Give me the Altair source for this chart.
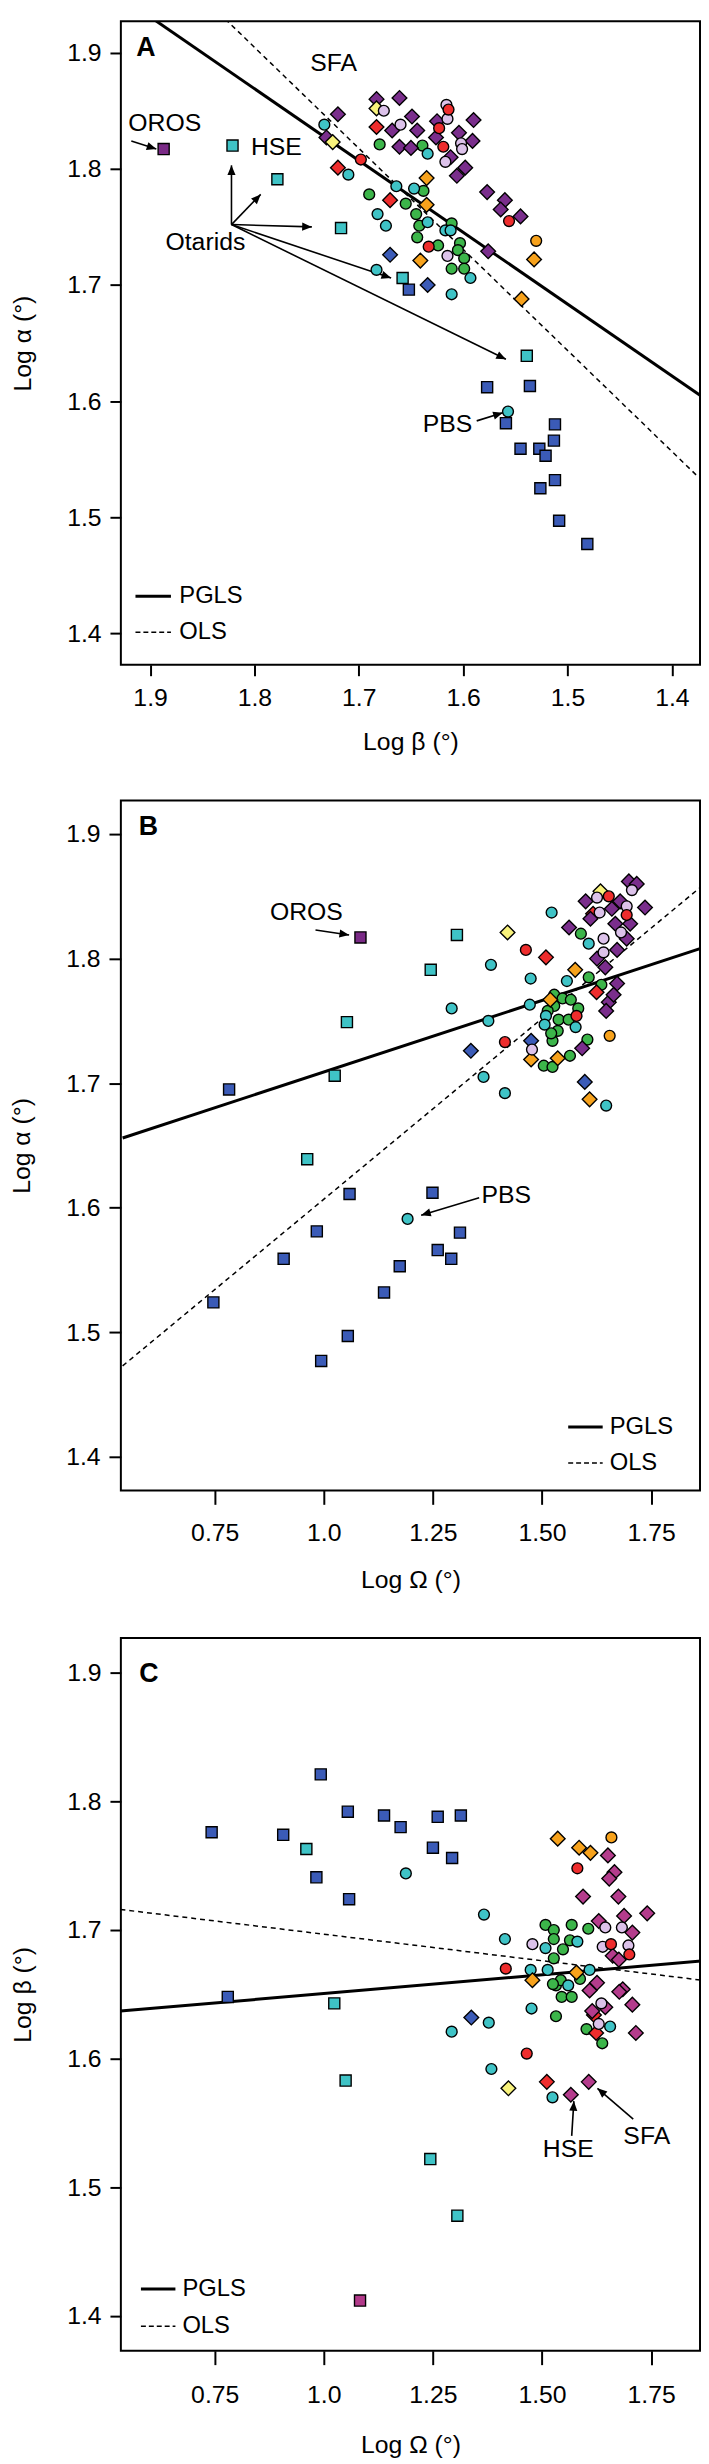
import math
import altair as alt
import pandas as pd

FONT = "Liberation Sans"

# ---------------- axis ticks / titles ----------------
Y_TICKS = [1.4, 1.5, 1.6, 1.7, 1.8, 1.9]
Y_LABELS = ["1.4", "1.5", "1.6", "1.7", "1.8", "1.9"]
A_X_TICKS = [1.4, 1.5, 1.6, 1.7, 1.8, 1.9]
A_X_LABELS = ["1.4", "1.5", "1.6", "1.7", "1.8", "1.9"]
BC_X_TICKS = [0.75, 1.0, 1.25, 1.5, 1.75]
BC_X_LABELS = ["0.75", "1.0", "1.25", "1.50", "1.75"]

# ---------------- Panel A: Log beta (x) vs Log alpha (y) ----------------
A_blue_sq = [(1.652, 1.696), (1.577, 1.612), (1.536, 1.613), (1.559, 1.581), (1.512, 1.580),
             (1.513, 1.566), (1.545, 1.559), (1.527, 1.559), (1.521, 1.553), (1.512, 1.532),
             (1.526, 1.525), (1.508, 1.497), (1.481, 1.477)]
A_cyan_sq = [(1.821, 1.820), (1.778, 1.791), (1.717, 1.749), (1.658, 1.706), (1.539, 1.639)]
A_purple_sq = [(1.887, 1.817)]
A_green_ci = [(1.680, 1.821), (1.639, 1.820), (1.690, 1.778), (1.655, 1.770), (1.638, 1.781),
              (1.645, 1.761), (1.642, 1.751), (1.644, 1.741), (1.624, 1.734), (1.611, 1.753),
              (1.603, 1.736), (1.605, 1.730), (1.599, 1.723), (1.599, 1.714), (1.611, 1.714)]
A_cyan_ci = [(1.733, 1.838), (1.634, 1.813), (1.710, 1.795), (1.664, 1.785), (1.647, 1.783),
             (1.682, 1.761), (1.674, 1.751), (1.634, 1.754), (1.617, 1.747), (1.612, 1.747),
             (1.683, 1.713), (1.593, 1.706), (1.611, 1.692), (1.557, 1.591)]
A_orange_ci = [(1.530, 1.738)]
A_orange_di = [(1.635, 1.792), (1.635, 1.769), (1.641, 1.721), (1.532, 1.722), (1.544, 1.688)]
A_blue_di = [(1.670, 1.726), (1.634, 1.700)]
A_red_di = [(1.683, 1.836), (1.720, 1.801), (1.670, 1.773)]
A_purple_di = [(1.683, 1.860), (1.661, 1.861), (1.720, 1.847), (1.649, 1.845), (1.590, 1.842),
               (1.668, 1.833), (1.644, 1.833), (1.625, 1.841), (1.604, 1.831), (1.626, 1.827),
               (1.591, 1.824), (1.661, 1.819), (1.650, 1.818), (1.612, 1.810), (1.598, 1.801),
               (1.606, 1.794), (1.577, 1.780), (1.560, 1.773), (1.564, 1.765), (1.545, 1.759),
               (1.576, 1.729), (1.731, 1.827)]
A_yellow_di = [(1.683, 1.852), (1.725, 1.823)]
A_lilac_ci = [(1.676, 1.850), (1.616, 1.855), (1.615, 1.843), (1.660, 1.838), (1.602, 1.822),
              (1.601, 1.817), (1.617, 1.806), (1.615, 1.725)]
A_red_ci = [(1.614, 1.851), (1.623, 1.835), (1.619, 1.819), (1.698, 1.808), (1.556, 1.755),
            (1.633, 1.733)]
A_pgls = [(1.897, 1.929), (1.373, 1.605)]
A_ols = [(1.828, 1.929), (1.375, 1.535)]
A_texts = ["SFA", "OROS", "HSE", "Otarids", "PBS"]
A_text_xy = [(1.724, 1.891), (1.886, 1.839), (1.779, 1.819), (1.847, 1.737), (1.615, 1.580)]
A_arrows = [(1.918, 1.824, 1.894, 1.817), (1.822, 1.752, 1.822, 1.803),
            (1.822, 1.752, 1.794, 1.778), (1.822, 1.752, 1.745, 1.750),
            (1.822, 1.752, 1.669, 1.706), (1.822, 1.752, 1.559, 1.636),
            (1.587, 1.583, 1.562, 1.590)]
A_legend_line_x = (1.914, 1.880)
A_legend_text_x = 1.872
A_legend_y = (1.432, 1.401)
A_letter_xy = (1.904, 1.904)

# ---------------- Panel B: Log Omega (x) vs Log alpha (y) ----------------
B_blue_sq = [(0.783, 1.695), (1.059, 1.611), (1.249, 1.612), (0.984, 1.581), (1.312, 1.580),
             (0.908, 1.559), (1.261, 1.566), (1.292, 1.559), (1.174, 1.553), (1.138, 1.532),
             (0.747, 1.524), (1.055, 1.497), (0.994, 1.477)]
B_cyan_sq = [(1.305, 1.819), (1.245, 1.791), (1.053, 1.749), (1.025, 1.706), (0.962, 1.639)]
B_purple_sq = [(1.084, 1.817)]
B_green_ci = [(1.589, 1.820), (1.607, 1.785), (1.636, 1.779), (1.528, 1.771), (1.547, 1.768),
              (1.566, 1.767), (1.583, 1.760), (1.528, 1.762), (1.513, 1.758), (1.538, 1.751),
              (1.561, 1.751), (1.536, 1.742), (1.524, 1.734), (1.604, 1.735), (1.564, 1.722),
              (1.504, 1.714), (1.524, 1.713), (1.521, 1.740)]
B_cyan_ci = [(1.522, 1.837), (1.383, 1.795), (1.474, 1.784), (1.557, 1.782), (1.607, 1.812),
             (1.293, 1.760), (1.472, 1.763), (1.377, 1.750), (1.509, 1.754), (1.506, 1.747),
             (1.577, 1.745), (1.366, 1.705), (1.415, 1.692), (1.647, 1.682), (1.192, 1.591)]
B_orange_ci = [(1.655, 1.738)]
B_orange_di = [(1.576, 1.791), (1.519, 1.767), (1.475, 1.719), (1.536, 1.720), (1.609, 1.687)]
B_blue_di = [(1.337, 1.726), (1.475, 1.734), (1.598, 1.701)]
B_red_di = [(1.509, 1.801), (1.625, 1.773), (1.617, 1.836)]
B_purple_di = [(1.699, 1.862), (1.717, 1.860), (1.600, 1.846), (1.660, 1.840), (1.736, 1.841),
               (1.562, 1.825), (1.679, 1.846), (1.668, 1.828), (1.702, 1.828), (1.611, 1.832),
               (1.694, 1.816), (1.672, 1.807), (1.626, 1.800), (1.645, 1.793), (1.672, 1.780),
               (1.653, 1.765), (1.647, 1.758), (1.664, 1.771), (1.592, 1.728)]
B_yellow_di = [(1.421, 1.821), (1.634, 1.854)]
B_lilac_ci = [(1.477, 1.727), (1.626, 1.849), (1.706, 1.855), (1.632, 1.837), (1.694, 1.842),
              (1.681, 1.821), (1.641, 1.816), (1.641, 1.805)]
B_red_ci = [(1.463, 1.807), (1.415, 1.733), (1.579, 1.754), (1.653, 1.850), (1.694, 1.835)]
B_pgls = [(0.539, 1.656), (1.862, 1.808)]
B_ols = [(0.539, 1.473), (1.862, 1.857)]
B_texts = ["OROS", "PBS"]
B_text_xy = [(0.960, 1.837), (1.418, 1.610)]
B_arrows = [(0.981, 1.823, 1.058, 1.819), (1.356, 1.608, 1.223, 1.594)]
B_legend_line_x = (1.560, 1.639)
B_legend_text_x = 1.655
B_legend_y = (1.424, 1.395)
B_letter_xy = (0.598, 1.906)

# ---------------- Panel C: Log Omega (x) vs Log beta (y) ----------------
C_blue_sq = [(0.743, 1.776), (0.780, 1.648), (0.907, 1.774), (0.993, 1.821), (0.983, 1.741),
             (1.055, 1.792), (1.058, 1.724), (1.138, 1.789), (1.176, 1.780), (1.250, 1.764),
             (1.261, 1.788), (1.294, 1.756), (1.314, 1.789)]
C_cyan_sq = [(0.960, 1.763), (1.024, 1.643), (1.050, 1.583), (1.244, 1.522), (1.306, 1.478)]
C_magenta_sq = [(1.083, 1.412)]
C_green_ci = [(1.508, 1.704), (1.568, 1.704), (1.606, 1.701), (1.527, 1.700), (1.527, 1.693),
              (1.564, 1.692), (1.548, 1.685), (1.527, 1.678), (1.532, 1.657), (1.543, 1.661),
              (1.525, 1.658), (1.545, 1.648), (1.568, 1.648), (1.532, 1.633), (1.602, 1.623),
              (1.638, 1.612), (1.587, 1.662)]
C_cyan_ci = [(1.188, 1.744), (1.367, 1.712), (1.415, 1.693), (1.508, 1.686), (1.581, 1.691),
             (1.474, 1.669), (1.513, 1.669), (1.609, 1.669), (1.560, 1.657), (1.476, 1.639),
             (1.378, 1.628), (1.293, 1.621), (1.656, 1.625), (1.384, 1.592), (1.524, 1.570)]
C_orange_ci = [(1.659, 1.772)]
C_orange_di = [(1.536, 1.771), (1.585, 1.764), (1.611, 1.760), (1.478, 1.661), (1.579, 1.667)]
C_blue_di = [(1.338, 1.632)]
C_red_di = [(1.624, 1.620), (1.619, 1.634), (1.511, 1.582)]
C_magenta_di = [(1.651, 1.758), (1.666, 1.745), (1.654, 1.740), (1.594, 1.726), (1.675, 1.726),
                (1.688, 1.711), (1.741, 1.713), (1.630, 1.707), (1.707, 1.698), (1.662, 1.680),
                (1.676, 1.677), (1.626, 1.659), (1.609, 1.653), (1.685, 1.654), (1.677, 1.652),
                (1.707, 1.642), (1.645, 1.640), (1.615, 1.637), (1.715, 1.620), (1.607, 1.582),
                (1.566, 1.572)]
C_yellow_di = [(1.423, 1.577)]
C_lilac_ci = [(1.478, 1.689), (1.645, 1.702), (1.683, 1.702), (1.639, 1.687), (1.698, 1.688),
              (1.636, 1.643), (1.630, 1.627)]
C_red_ci = [(1.581, 1.748), (1.417, 1.670), (1.658, 1.689), (1.700, 1.681), (1.465, 1.604)]
C_pgls = [(0.534, 1.637), (1.867, 1.676)]
C_ols = [(0.534, 1.716), (1.867, 1.661)]
C_texts = ["HSE", "SFA"]
C_text_xy = [(1.560, 1.530), (1.740, 1.540)]
C_arrows = [(1.568, 1.540, 1.573, 1.567), (1.709, 1.553, 1.627, 1.577)]
C_legend_line_x = (0.581, 0.660)
C_legend_text_x = 0.676
C_legend_y = (1.421, 1.392)
C_letter_xy = (0.599, 1.899)

# ---------------- styles ----------------
STYLE = {
    "blue_sq": ("square", "#3b5bb7", 125),
    "cyan_sq": ("square", "#3fc3c6", 125),
    "purple_sq": ("square", "#7a2a86", 125),
    "magenta_sq": ("square", "#b23a8a", 125),
    "green_ci": ("circle", "#3cb54a", 120),
    "cyan_ci": ("circle", "#3fc3c6", 120),
    "orange_ci": ("circle", "#f7a21c", 120),
    "orange_di": ("diamond", "#f7a21c", 220),
    "blue_di": ("diamond", "#3b5bb7", 220),
    "red_di": ("diamond", "#ee2d2d", 220),
    "purple_di": ("diamond", "#7a2e8c", 220),
    "magenta_di": ("diamond", "#b43c8c", 220),
    "yellow_di": ("diamond", "#f8f27c", 220),
    "lilac_ci": ("circle", "#dcc2ea", 120),
    "red_ci": ("circle", "#ee2d2d", 120),
}
ARROW_PATH = "M0,0L-0.42,1L0.42,1Z"
WIDTH = 585
YDOM = [1.373, 1.927]


def label_expr(values, labels):
    parts = [f"abs(datum.value - {v}) < 0.001 ? '{l}'" for v, l in zip(values, labels)]
    return " : ".join(parts) + " : ''"


def panel(groups, xdom, xrev, height, xticks, xlabels, xtitle, ytitle, pgls, ols,
          texts, text_xy, arrows, leg_line_x, leg_text_x, leg_y, letter, letter_xy,
          xtick, xlabpad, xtitlepad, ytick):
    kx = WIDTH / (xdom[1] - xdom[0]) * (-1 if xrev else 1)
    ky = height / (YDOM[1] - YDOM[0])
    xscale = alt.Scale(domain=xdom, reverse=xrev, nice=False, zero=False)
    yscale = alt.Scale(domain=YDOM, nice=False, zero=False)
    xaxis = alt.Axis(values=xticks, labelExpr=label_expr(xticks, xlabels), title=xtitle,
                     tickSize=xtick, labelPadding=xlabpad, titlePadding=xtitlepad,
                     grid=False, domain=False, labelFlush=False, labelOverlap=False)
    yaxis = alt.Axis(values=Y_TICKS, labelExpr=label_expr(Y_TICKS, Y_LABELS), title=ytitle,
                     tickSize=ytick, labelPadding=9, titlePadding=32,
                     grid=False, domain=False, labelFlush=False, labelOverlap=False)

    def X(f="x"):
        return alt.X(f"{f}:Q", scale=xscale, axis=xaxis)

    def Y(f="y"):
        return alt.Y(f"{f}:Q", scale=yscale, axis=yaxis)

    rows = []
    for name, pts in groups:
        shp, col, sz = STYLE[name]
        for (x, y) in pts:
            rows.append(dict(x=x, y=y, shape=shp, fill=col, size=sz))
    pts_df = pd.DataFrame(rows)

    line_rows = []
    for (x, y) in pgls:
        line_rows.append(dict(x=x, y=y, kind="pgls"))
    for (x, y) in ols:
        line_rows.append(dict(x=x, y=y, kind="ols"))
    lines_df = pd.DataFrame(line_rows)

    arr_rows = []
    for (x1, y1, x2, y2) in arrows:
        dxp = (x2 - x1) * kx
        dyp = -(y2 - y1) * ky
        ang = math.degrees(math.atan2(dxp, -dyp)) % 360
        arr_rows.append(dict(x=x1, y=y1, x2=x2, y2=y2, hx=x2, hy=y2, ang=ang))
    arr_df = pd.DataFrame(arr_rows)

    txt_df = pd.DataFrame([dict(x=p[0], y=p[1], t=t) for t, p in zip(texts, text_xy)])

    leg_lines = pd.DataFrame([
        dict(x=leg_line_x[0], x2=leg_line_x[1], y=leg_y[0], y2=leg_y[0], kind="pgls"),
        dict(x=leg_line_x[0], x2=leg_line_x[1], y=leg_y[1], y2=leg_y[1], kind="ols"),
    ])
    leg_txt = pd.DataFrame([dict(x=leg_text_x, y=leg_y[0], t="PGLS"),
                            dict(x=leg_text_x, y=leg_y[1], t="OLS")])
    letter_df = pd.DataFrame([dict(x=letter_xy[0], y=letter_xy[1], t=letter)])

    pgls_layer = alt.Chart(lines_df).transform_filter("datum.kind == 'pgls'").mark_line(
        clip=True, color="black", strokeWidth=3).encode(x=X(), y=Y())
    ols_layer = alt.Chart(lines_df).transform_filter("datum.kind == 'ols'").mark_line(
        clip=True, color="black", strokeWidth=1.5, strokeDash=[5, 4]).encode(x=X(), y=Y())
    arrow_lines = alt.Chart(arr_df).mark_rule(color="black", strokeWidth=1.6).encode(
        x=X(), y=Y(), x2=alt.X2("x2:Q"), y2=alt.Y2("y2:Q"))
    arrow_heads = alt.Chart(arr_df).mark_point(
        shape=ARROW_PATH, filled=True, color="black", size=380, opacity=1,
        strokeWidth=0).encode(x=X("hx"), y=Y("hy"), angle=alt.Angle("ang:Q", scale=None))
    points = alt.Chart(pts_df).mark_point(
        filled=True, stroke="black", strokeWidth=1.4, opacity=1, fillOpacity=1).encode(
        x=X(), y=Y(),
        shape=alt.Shape("shape:N", scale=None),
        fill=alt.Fill("fill:N", scale=None),
        size=alt.Size("size:Q", scale=None))
    text_layer = alt.Chart(txt_df).mark_text(
        font=FONT, fontSize=25, color="black", align="center", baseline="middle").encode(
        x=X(), y=Y(), text="t:N")
    leg_pgls = alt.Chart(leg_lines).transform_filter("datum.kind == 'pgls'").mark_rule(
        color="black", strokeWidth=3).encode(x=X(), y=Y(), x2=alt.X2("x2:Q"))
    leg_ols = alt.Chart(leg_lines).transform_filter("datum.kind == 'ols'").mark_rule(
        color="black", strokeWidth=1.5, strokeDash=[5, 3]).encode(x=X(), y=Y(), x2=alt.X2("x2:Q"))
    leg_text = alt.Chart(leg_txt).mark_text(
        font=FONT, fontSize=24, color="black", align="left", baseline="middle").encode(
        x=X(), y=Y(), text="t:N")
    letter_layer = alt.Chart(letter_df).mark_text(
        font=FONT, fontSize=27, fontWeight="bold", color="black", align="center",
        baseline="middle").encode(x=X(), y=Y(), text="t:N")

    return alt.layer(pgls_layer, ols_layer, arrow_lines, arrow_heads, points, text_layer,
                     leg_pgls, leg_ols, leg_text, letter_layer).properties(
        width=WIDTH, height=height)


A_groups = [("blue_sq", A_blue_sq), ("cyan_sq", A_cyan_sq), ("purple_sq", A_purple_sq),
            ("green_ci", A_green_ci), ("cyan_ci", A_cyan_ci), ("orange_ci", A_orange_ci),
            ("orange_di", A_orange_di), ("blue_di", A_blue_di), ("red_di", A_red_di),
            ("purple_di", A_purple_di), ("yellow_di", A_yellow_di), ("lilac_ci", A_lilac_ci),
            ("red_ci", A_red_ci)]
B_groups = [("blue_sq", B_blue_sq), ("cyan_sq", B_cyan_sq), ("purple_sq", B_purple_sq),
            ("green_ci", B_green_ci), ("cyan_ci", B_cyan_ci), ("orange_ci", B_orange_ci),
            ("orange_di", B_orange_di), ("blue_di", B_blue_di), ("red_di", B_red_di),
            ("purple_di", B_purple_di), ("yellow_di", B_yellow_di), ("lilac_ci", B_lilac_ci),
            ("red_ci", B_red_ci)]
C_groups = [("blue_sq", C_blue_sq), ("cyan_sq", C_cyan_sq), ("magenta_sq", C_magenta_sq),
            ("green_ci", C_green_ci), ("cyan_ci", C_cyan_ci), ("orange_ci", C_orange_ci),
            ("orange_di", C_orange_di), ("blue_di", C_blue_di), ("red_di", C_red_di),
            ("magenta_di", C_magenta_di), ("yellow_di", C_yellow_di), ("lilac_ci", C_lilac_ci),
            ("red_ci", C_red_ci)]

pA = panel(A_groups, [1.373, 1.928], True, 650, A_X_TICKS, A_X_LABELS,
           "Log β (°)", "Log α (°)", A_pgls, A_ols, A_texts, A_text_xy, A_arrows,
           A_legend_line_x, A_legend_text_x, A_legend_y, "A", A_letter_xy,
           11, 10, 20, 11)
pB = panel(B_groups, [0.535, 1.862], False, 697, BC_X_TICKS, BC_X_LABELS,
           "Log Ω (°)", "Log α (°)", B_pgls, B_ols, B_texts, B_text_xy, B_arrows,
           B_legend_line_x, B_legend_text_x, B_legend_y, "B", B_letter_xy,
           14, 17, 22, 12)
pC = panel(C_groups, [0.535, 1.862], False, 720, BC_X_TICKS, BC_X_LABELS,
           "Log Ω (°)", "Log β (°)", C_pgls, C_ols, C_texts, C_text_xy, C_arrows,
           C_legend_line_x, C_legend_text_x, C_legend_y, "C", C_letter_xy,
           14, 18, 26, 11)

chart = alt.vconcat(pA, pB, pC, spacing=44).properties(
    padding={"left": 0, "top": 0, "right": 0, "bottom": 0}
).configure_view(stroke="black", strokeWidth=2).configure_axis(
    labelFont=FONT, titleFont=FONT, labelFontSize=25, titleFontSize=25,
    titleFontWeight="normal", labelColor="black", titleColor="black",
    tickColor="black", tickWidth=2)

chart.save("out.html", embed_options={"renderer": "svg", "actions": False})
